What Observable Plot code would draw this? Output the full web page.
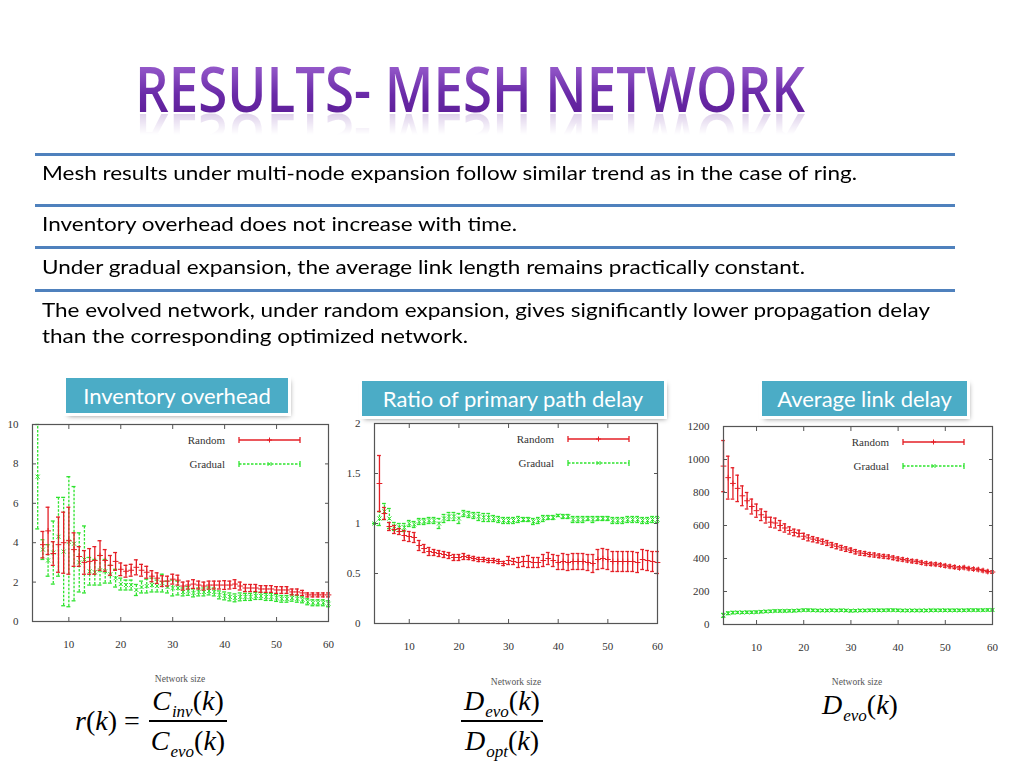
<!DOCTYPE html>
<html><head><meta charset="utf-8">
<script src="https://cdn.jsdelivr.net/npm/d3@7"></script>
<script src="https://cdn.jsdelivr.net/npm/@observablehq/plot@0.6"></script>
<style>
body{margin:0;background:#fff;}
#slide{position:relative;width:1024px;height:768px;overflow:hidden;background:#fff;font-family:Lato,"Open Sans",sans-serif;}
.title{position:absolute;left:135px;top:56px;font-family:"Open Sans",sans-serif;font-weight:600;font-size:64px;line-height:64px;white-space:nowrap;transform-origin:0 0;
 background:linear-gradient(#a46ad6,#6a2aa8 60%,#5a1b94);-webkit-background-clip:text;background-clip:text;color:transparent;
 -webkit-box-reflect:below -14px linear-gradient(transparent 55%,rgba(255,255,255,0.28));}
.hr{position:absolute;left:35px;width:920px;height:2.5px;background:#4f81bd;}
.line{position:absolute;left:42px;font-size:20px;line-height:20px;color:#000;white-space:nowrap;transform-origin:0 0;}
.tag{position:absolute;background:#4bacc6;color:#fff;outline:3px solid #fff;box-shadow:2px 3px 5px rgba(0,0,0,.45);font-size:22px;display:flex;align-items:center;justify-content:center;z-index:5;white-space:nowrap;}
.chart{position:absolute;overflow:hidden;background:#fff;}
.nsize{position:absolute;font-family:"Liberation Serif",serif;font-size:9.5px;color:#555;transform:translateX(-50%);white-space:nowrap;}
.math{position:absolute;font-family:"Liberation Serif","DejaVu Serif",serif;font-size:28px;display:flex;align-items:center;white-space:nowrap;}
.math i{font-style:italic;}
.math sub{font-size:17px;font-style:italic;vertical-align:-7px;line-height:0;margin-left:1px;}
.frac{display:inline-flex;flex-direction:column;align-items:center;margin-left:8px;}
.frac .num{border-bottom:2px solid #000;padding:0 3px 2px 3px;line-height:34px;}
.frac .den{padding:2px 3px 0 3px;line-height:34px;}
</style></head>
<body><div id="slide">
<div class="title" data-w="670">RESULTS- MESH NETWORK</div>
<div class="hr" style="top:153px"></div>
<div class="hr" style="top:204px"></div>
<div class="hr" style="top:246px"></div>
<div class="hr" style="top:289px"></div>
<div class="line" style="top:162px" data-w="815">Mesh results under multi-node expansion follow similar trend as in the case of ring.</div>
<div class="line" style="top:213px" data-w="475">Inventory overhead does not increase with time.</div>
<div class="line" style="top:256px" data-w="763">Under gradual expansion, the average link length remains practically constant.</div>
<div class="line" style="top:299px" data-w="888">The evolved network, under random expansion, gives significantly lower propagation delay</div>
<div class="line" style="top:325px" data-w="426">than the corresponding optimized network.</div>

<div class="chart" id="c1" style="left:0;top:400px;width:338px;height:300px"></div>
<div class="chart" id="c2" style="left:340px;top:400px;width:340px;height:300px"></div>
<div class="chart" id="c3" style="left:680px;top:400px;width:344px;height:300px"></div>

<div class="tag" style="left:66px;top:378px;width:222px;height:35px">Inventory overhead</div>
<div class="tag" style="left:362px;top:381px;width:302px;height:35px">Ratio of primary path delay</div>
<div class="tag" style="left:762px;top:381px;width:205px;height:35px">Average link delay</div>

<div class="nsize" style="left:180px;top:674px">Network size</div>
<div class="nsize" style="left:516px;top:677px">Network size</div>
<div class="nsize" style="left:857px;top:677px">Network size</div>

<div class="math" style="left:75px;top:684px"><span><i>r</i>(<i>k</i>) =</span><span class="frac"><span class="num"><i>C</i><sub>inv</sub>(<i>k</i>)</span><span class="den"><i>C</i><sub>evo</sub>(<i>k</i>)</span></span></div>
<div class="math" style="left:461px;top:684px"><span class="frac" style="margin-left:0"><span class="num"><i>D</i><sub>evo</sub>(<i>k</i>)</span><span class="den"><i>D</i><sub>opt</sub>(<i>k</i>)</span></span></div>
<div class="math" style="left:822px;top:688px"><span style="line-height:34px"><i>D</i><sub>evo</sub>(<i>k</i>)</span></div>
</div>
<script>
// ---------- Data ----------
const xTicks = [10, 20, 30, 40, 50, 60];

// Inventory overhead r(k)
const invRandomStart = 5;
const invRandomMean = [3.9,4.6,3.45,3.9,4.0,4.1,3.65,3.3,3.0,3.05,3.1,3.35,3.1,2.85,3.05,2.65,2.55,2.6,2.75,2.6,2.5,2.3,2.2,2.05,2.05,2.15,2.1,1.8,1.85,1.9,1.85,1.8,1.85,1.85,1.85,1.85,1.85,1.9,1.8,1.7,1.7,1.7,1.65,1.65,1.65,1.6,1.6,1.6,1.5,1.5,1.45,1.35,1.35,1.35,1.35,1.35];
const invRandomErr  = [0.67,1.2,0.6,1.4,1.55,1.7,0.85,0.5,0.6,0.65,0.7,0.75,0.55,0.5,0.45,0.32,0.3,0.3,0.38,0.3,0.3,0.28,0.27,0.27,0.25,0.25,0.25,0.2,0.2,0.22,0.2,0.2,0.2,0.2,0.2,0.22,0.2,0.22,0.2,0.18,0.18,0.18,0.17,0.17,0.17,0.17,0.17,0.17,0.15,0.15,0.13,0.1,0.1,0.1,0.1,0.1];
const invGradualStart = 4;
const invGradualMean = [7.35,3.65,3.1,3.5,4.3,3.55,4.05,3.95,3.0,3.15,2.55,2.5,2.6,2.55,2.4,2.2,1.9,1.85,1.85,1.6,1.75,1.8,1.85,1.8,1.95,1.75,1.7,1.7,1.5,1.55,1.45,1.5,1.5,1.55,1.5,1.35,1.3,1.25,1.2,1.25,1.25,1.25,1.3,1.3,1.25,1.25,1.2,1.15,1.15,1.2,1.15,1.1,1.0,0.95,0.95,0.95,0.9];
const invGradualErr  = [2.65,0.5,0.8,1.6,2.0,2.75,3.3,2.9,1.5,1.7,0.7,0.65,0.75,0.6,0.45,0.45,0.3,0.25,0.25,0.28,0.3,0.35,0.35,0.3,0.45,0.3,0.4,0.35,0.2,0.22,0.2,0.2,0.2,0.2,0.2,0.2,0.2,0.2,0.2,0.2,0.18,0.18,0.18,0.18,0.18,0.18,0.18,0.17,0.17,0.17,0.17,0.15,0.15,0.15,0.15,0.15,0.15];
const invYTicks = [0, 2, 4, 6, 8, 10];

// Ratio of primary path delay D_evo/D_opt
const ratioRandomStart = 4;
const ratioRandomMean = [1.4,1.1,0.97,0.94,0.92,0.88,0.87,0.86,0.78,0.75,0.72,0.71,0.7,0.69,0.68,0.66,0.66,0.67,0.66,0.65,0.64,0.64,0.63,0.63,0.62,0.6,0.63,0.62,0.61,0.62,0.62,0.61,0.61,0.63,0.65,0.63,0.61,0.62,0.61,0.62,0.62,0.62,0.61,0.6,0.64,0.65,0.64,0.62,0.62,0.62,0.62,0.62,0.61,0.64,0.63,0.62,0.61];
const ratioRandomErr  = [0.28,0.06,0.04,0.04,0.03,0.05,0.05,0.05,0.05,0.04,0.04,0.03,0.03,0.03,0.03,0.03,0.03,0.03,0.02,0.02,0.02,0.02,0.02,0.02,0.02,0.02,0.04,0.03,0.05,0.05,0.06,0.05,0.05,0.06,0.06,0.06,0.07,0.08,0.08,0.08,0.08,0.08,0.08,0.09,0.1,0.1,0.1,0.1,0.1,0.1,0.1,0.1,0.1,0.1,0.1,0.1,0.11];
const ratioGradualStart = 3;
const ratioGradualMean = [1.0,1.05,1.12,1.05,0.97,0.96,0.96,1.0,0.99,1.02,1.02,1.03,1.03,1.0,1.05,1.07,1.07,1.05,1.1,1.09,1.08,1.07,1.06,1.06,1.05,1.04,1.03,1.03,1.03,1.04,1.04,1.04,1.02,1.03,1.05,1.06,1.06,1.08,1.07,1.07,1.04,1.04,1.04,1.05,1.04,1.05,1.05,1.05,1.03,1.03,1.03,1.04,1.04,1.04,1.03,1.03,1.04,1.04];
const ratioGradualErr  = [0,0.07,0.08,0.1,0.04,0.04,0.04,0.03,0.03,0.03,0.03,0.03,0.03,0.05,0.04,0.04,0.04,0.05,0.03,0.03,0.03,0.04,0.04,0.04,0.03,0.03,0.03,0.03,0.03,0.03,0.02,0.02,0.03,0.03,0.03,0.02,0.02,0.01,0.02,0.02,0.03,0.03,0.03,0.02,0.03,0.02,0.02,0.02,0.03,0.03,0.03,0.03,0.03,0.03,0.03,0.03,0.03,0.03];
const ratioYTicks = [0, 0.5, 1, 1.5, 2];
const ratioYTickLabels = ["0", "0.5", "1", "1.5", "2"];

// Average link delay D_evo
const delayRandomStart = 3;
const delayRandomMean = [960,890,855,825,780,750,715,690,665,650,620,615,600,585,570,558,552,535,525,517,510,502,494,482,474,465,457,450,441,433,430,424,421,416,413,410,404,398,394,389,384,381,375,370,367,365,361,356,352,348,343,345,339,336,333,327,321,318];
const delayRandomErr  = [155,130,95,80,60,50,45,40,35,35,30,30,30,25,22,20,20,18,18,16,15,15,15,15,15,14,14,13,13,13,12,12,12,11,11,11,11,11,10,10,10,10,10,10,9,9,9,9,9,9,8,8,8,8,8,8,8,8];
const delayGradualStart = 3;
const delayGradualMean = [55,68,72,73,73,74,74,75,77,79,80,82,82,82,83,83,85,87,87,86,85,85,85,86,85,86,85,83,84,85,85,86,86,86,86,87,87,86,85,85,85,85,85,85,86,86,86,86,86,86,86,86,87,87,87,87,88,88];
const delayGradualErr  = [12,8,7,6,6,6,6,6,6,6,6,6,6,6,6,6,6,6,6,6,6,6,6,6,6,6,6,6,6,6,6,6,6,6,6,6,6,6,6,6,6,6,6,6,6,6,6,6,6,6,6,6,6,6,6,6,6,6];
const delayYTicks = [0, 200, 400, 600, 800, 1000, 1200];

const seriesNames = ["Random", "Gradual"];
const RED = "#e41f26", GREEN = "#2ee32e";

// ---------- Helpers ----------
function rows(start, mean, err) {
  return mean.map((m, i) => ({x: start + i, m, lo: m - err[i], hi: m + err[i]}));
}

function errMarks(data, color, dashed, symbol) {
  const dash = dashed ? "2.5,1.5" : null;
  return [
    Plot.ruleX(data, {x: "x", y1: "lo", y2: "hi", stroke: color, strokeWidth: 1.3, strokeDasharray: dash}),
    Plot.ruleY(data, {y: "hi", x1: d => d.x - 0.38, x2: d => d.x + 0.38, stroke: color, strokeWidth: 1.3}),
    Plot.ruleY(data, {y: "lo", x1: d => d.x - 0.38, x2: d => d.x + 0.38, stroke: color, strokeWidth: 1.3}),
    Plot.dot(data, {x: "x", y: "m", symbol, r: 2, stroke: color, strokeWidth: 1})
  ];
}

function makeChart(cfg) {
  const tickFmt = cfg.yLabels ? (d, i) => cfg.yLabels[i] : d => String(d);
  const plot = Plot.plot({
    width: cfg.width, height: 300,
    marginTop: cfg.mt, marginRight: cfg.mr, marginBottom: cfg.mb, marginLeft: cfg.ml,
    style: {fontFamily: "'Liberation Serif', 'DejaVu Serif', serif", fontSize: "11px", color: "#333", background: "transparent", overflow: "visible"},
    x: {domain: [3, 60]},
    y: {domain: cfg.yDomain},
    marks: [
      ...errMarks(cfg.green, GREEN, true, "times"),
      ...errMarks(cfg.red, RED, false, "plus"),
      Plot.axisX(xTicks, {anchor: "bottom", tickSize: -4, tickPadding: 23, label: null, stroke: "#555"}),
      Plot.axisX(xTicks, {anchor: "top", tickSize: -4, tickFormat: () => "", label: null, stroke: "#555"}),
      Plot.axisY(cfg.yTicks, {anchor: "left", tickSize: -4, tickPadding: 18, tickFormat: tickFmt, label: null, stroke: "#555"}),
      Plot.axisY(cfg.yTicks, {anchor: "right", tickSize: -4, tickFormat: () => "", label: null, stroke: "#555"}),
      Plot.frame({stroke: "#555", strokeWidth: 1.2})
    ]
  });
  // in-frame legend (gnuplot style, top right)
  const svg = d3.select(plot);
  const fr = cfg.width - cfg.mr, ft = cfg.mt;
  const g = svg.append("g").attr("font-family", "'Liberation Serif', 'DejaVu Serif', serif").attr("font-size", 11).attr("fill", "#333");
  seriesNames.forEach((name, i) => {
    const y = ft + 16 + i * 24, col = i ? GREEN : RED;
    g.append("text").attr("x", fr - 103).attr("y", y).attr("dy", "0.35em").attr("text-anchor", "end").text(name);
    const x1 = fr - 89, x2 = fr - 28, xm = (x1 + x2) / 2;
    g.append("line").attr("x1", x1).attr("x2", x2).attr("y1", y).attr("y2", y).attr("stroke", col).attr("stroke-width", 1.3).attr("stroke-dasharray", i ? "2.5,1.5" : null);
    [x1, x2].forEach(x => g.append("line").attr("x1", x).attr("x2", x).attr("y1", y - 3).attr("y2", y + 3).attr("stroke", col).attr("stroke-width", 1.3));
    if (i) {
      g.append("path").attr("d", `M${xm-2},${y-2}L${xm+2},${y+2}M${xm-2},${y+2}L${xm+2},${y-2}`).attr("stroke", col);
    } else {
      g.append("path").attr("d", `M${xm-2.5},${y}L${xm+2.5},${y}M${xm},${y-2.5}L${xm},${y+2.5}`).attr("stroke", col);
    }
  });
  document.getElementById(cfg.id).appendChild(plot);
}

makeChart({id: "c1", width: 338, mt: 24, mr: 10, mb: 79, ml: 32, yDomain: [0, 10], yTicks: invYTicks,
  red: rows(invRandomStart, invRandomMean, invRandomErr), green: rows(invGradualStart, invGradualMean, invGradualErr)});
makeChart({id: "c2", width: 340, mt: 23, mr: 23, mb: 77, ml: 34, yDomain: [0, 2], yTicks: ratioYTicks, yLabels: ratioYTickLabels,
  red: rows(ratioRandomStart, ratioRandomMean, ratioRandomErr), green: rows(ratioGradualStart, ratioGradualMean, ratioGradualErr)});
makeChart({id: "c3", width: 344, mt: 26, mr: 32, mb: 76, ml: 43, yDomain: [0, 1200], yTicks: delayYTicks,
  red: rows(delayRandomStart, delayRandomMean, delayRandomErr), green: rows(delayGradualStart, delayGradualMean, delayGradualErr)});

// fit text widths to the slide layout
function fit() {
  document.querySelectorAll("[data-w]").forEach(el => {
    el.style.transform = "none";
    const w = el.getBoundingClientRect().width;
    el.style.transform = `scaleX(${(+el.dataset.w) / w})`;
  });
}
fit();
if (document.fonts && document.fonts.ready) document.fonts.ready.then(fit);
</script>
</body></html>
